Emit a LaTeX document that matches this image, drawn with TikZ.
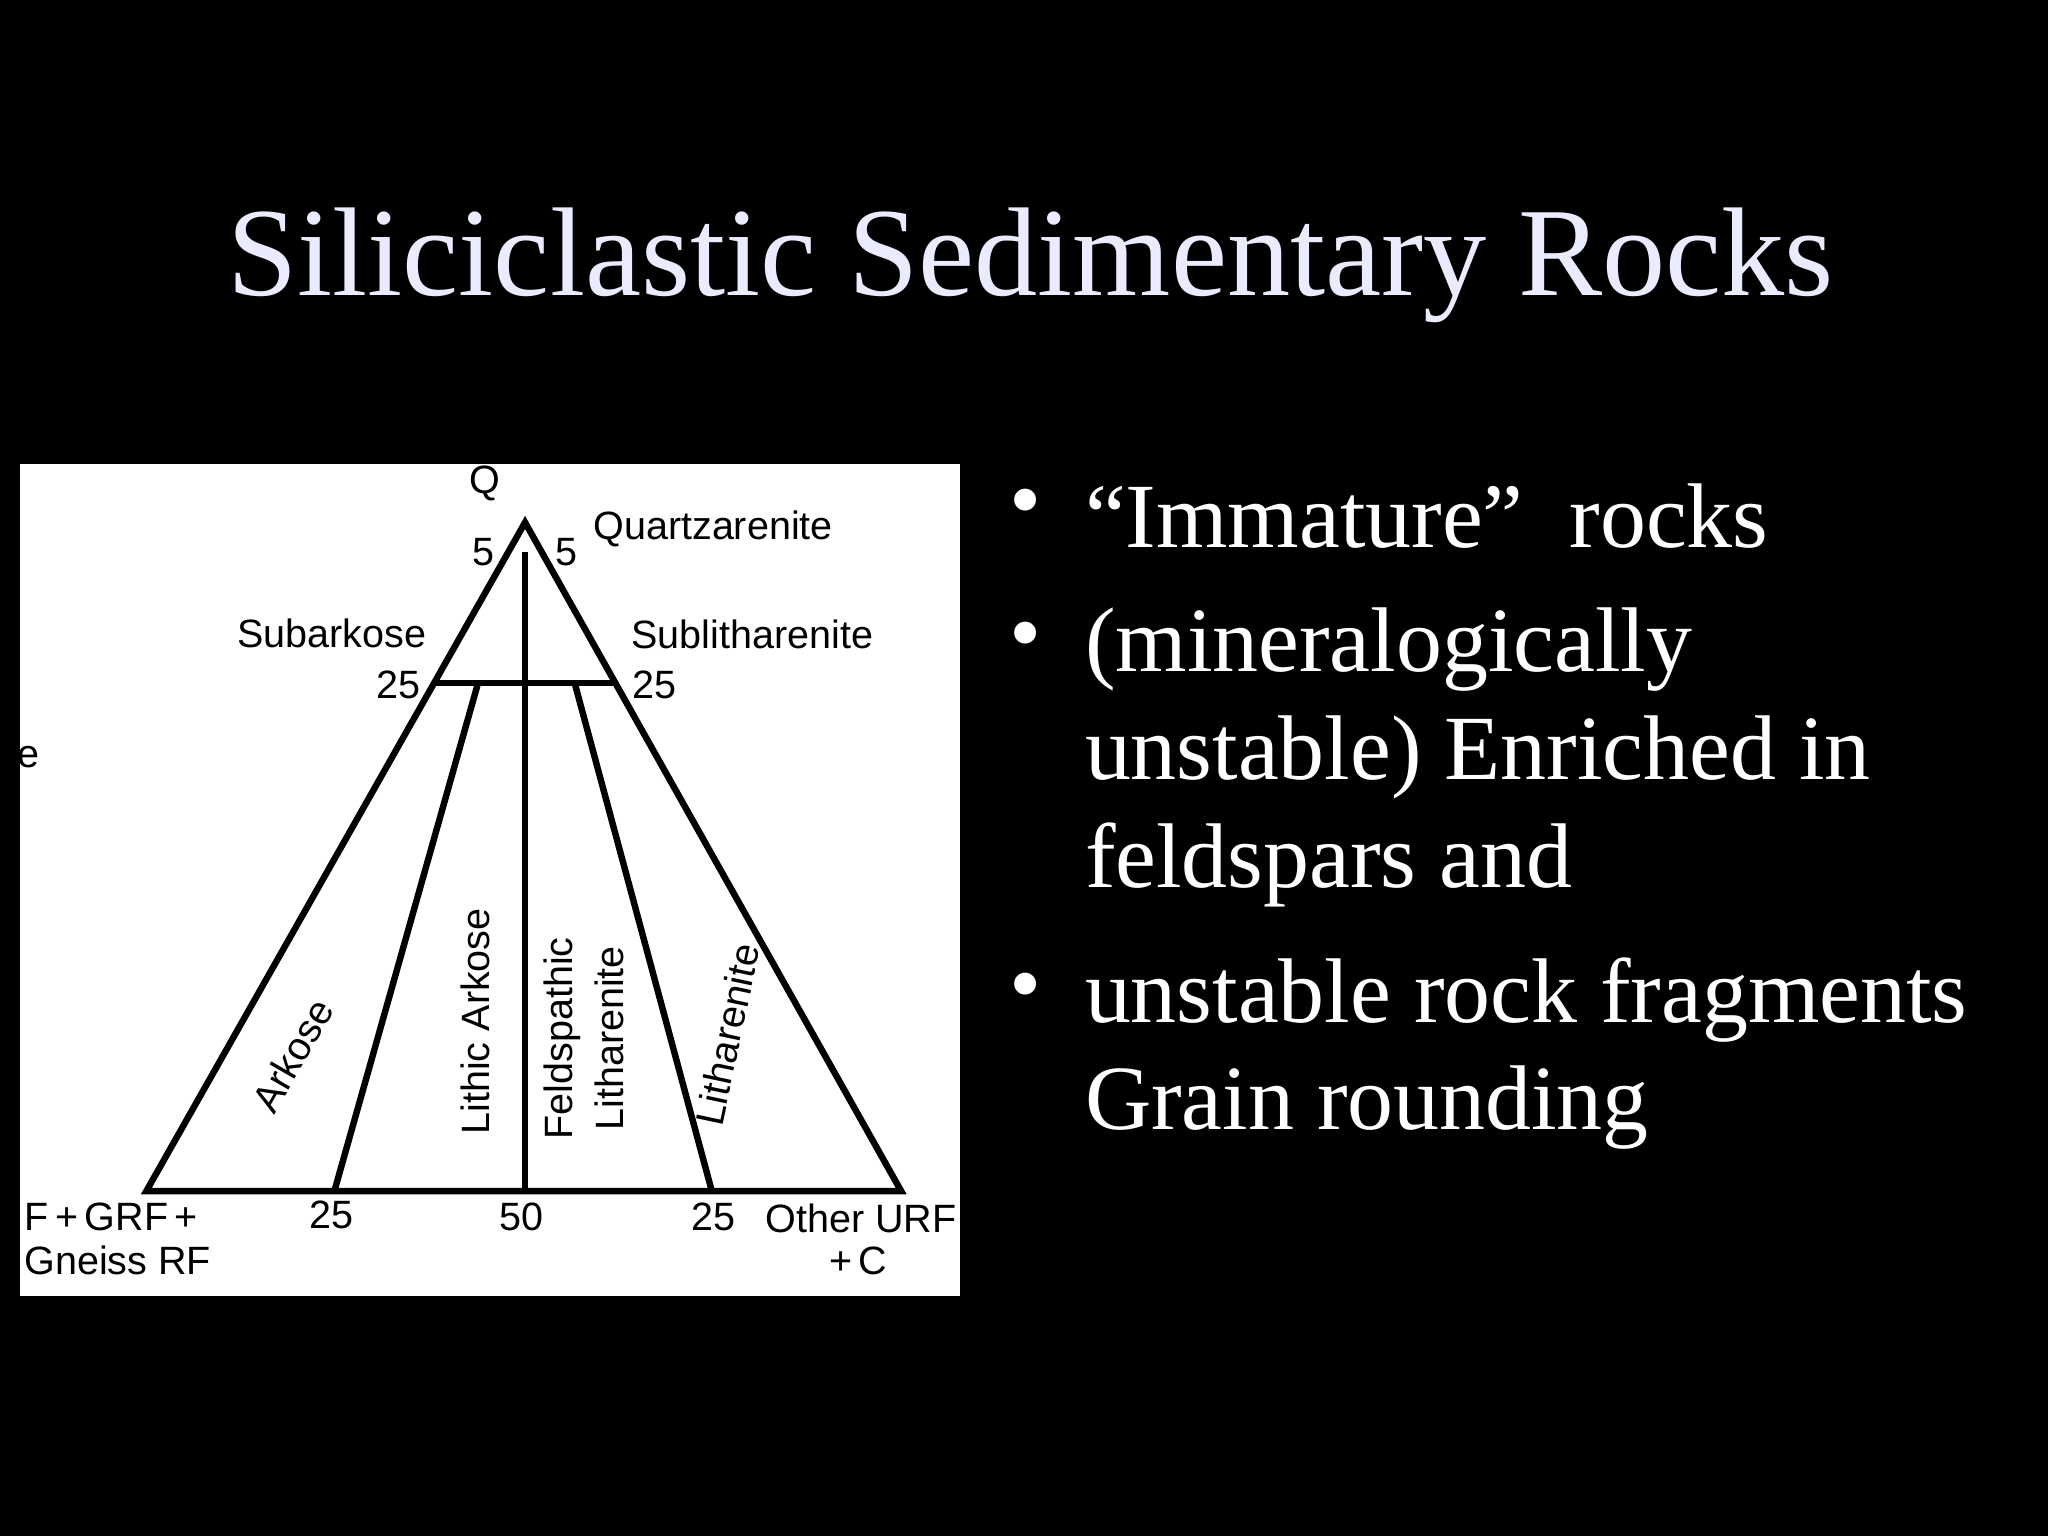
\documentclass[tikz,border=0pt]{standalone}
\usepackage{fontspec}
\setmainfont{Liberation Serif}
\newfontfamily\lab{Liberation Sans}
\begin{document}
\begin{tikzpicture}[x=0.01cm,y=0.01cm,
  lbl/.style={font=\lab\fontsize{8.6pt}{9pt}\selectfont, text=black, inner sep=0},
  bul/.style={font=\fontsize{20pt}{23pt}\selectfont, text=white, anchor=west, inner sep=0},
  ln/.style={line width=1.4pt, black}]
\fill[black] (0,0) rectangle (1568,-1176);
\useasboundingbox (0,0) rectangle (1568,-1176);
\node[font=\fontsize{27.5pt}{30pt}\selectfont, text=white!92!blue] (title) at (789,-203) {Siliciclastic Sedimentary Rocks};
\fill[white] (15,-355) rectangle (735,-992);
\coordinate (A) at (402,-400); \coordinate (L) at (112,-912); \coordinate (R) at (690,-912);
\draw[ln] (L) -- (A) -- (R) -- cycle;
\draw[ln] (332,-523) -- (470,-523);
\draw[ln] (402,-423) -- (402,-912);
\draw[ln] (366,-523) -- (256,-912);
\draw[ln] (440,-523) -- (545,-912);
\node[lbl] (q) at (371,-370) {Q};
\node[lbl] (f5a) at (370,-423) {5};
\node[lbl] (f5b) at (434,-423) {5};
\node[lbl] (qa) at (546,-405) {Quartzarenite};
\node[lbl] (sa) at (254,-485) {Subarkose};
\node[lbl] (sl) at (576,-486) {Sublitharenite};
\node[lbl] (t1) at (305,-524) {25};
\node[lbl] (t2) at (501,-524) {25};
\node[lbl] (e) at (22,-580) {e};
\node[lbl, rotate=60] (ark) at (224,-808) {Arkose};
\node[lbl, rotate=90] (la) at (364,-782) {Lithic Arkose};
\node[lbl, rotate=90, align=center] (fl) at (447,-795) {Feldspathic\\[2pt]Litharenite};
\node[lbl, rotate=78] (lit) at (557,-792) {Litharenite};
\node[lbl] (b1) at (254,-930) {25};
\node[lbl] (b2) at (399,-932) {50};
\node[lbl] (b3) at (546,-932) {25};
\node[lbl, anchor=west] (fg) at (18,-932) {F\,+\,GRF\,+};
\node[lbl, anchor=west] (gn) at (18,-965) {Gneiss RF};
\node[lbl, anchor=east] (ou) at (733,-933) {Other URF};
\node[lbl] (pc) at (657,-965) {+\,C};
\foreach \y/\t/\b in {395/{``Immature''\ \ rocks}/1, 497/{(mineralogically}/1, 580/{unstable) Enriched in}/0, 662/{feldspars and}/0, 766/{unstable rock fragments}/1, 848/{Grain rounding}/0}{
  \node[bul] at (830,-\y) {\t};
  \ifnum\b=1 \node[bul] at (772,-\y+5) {•};\fi
}
\end{tikzpicture}
\end{document}
